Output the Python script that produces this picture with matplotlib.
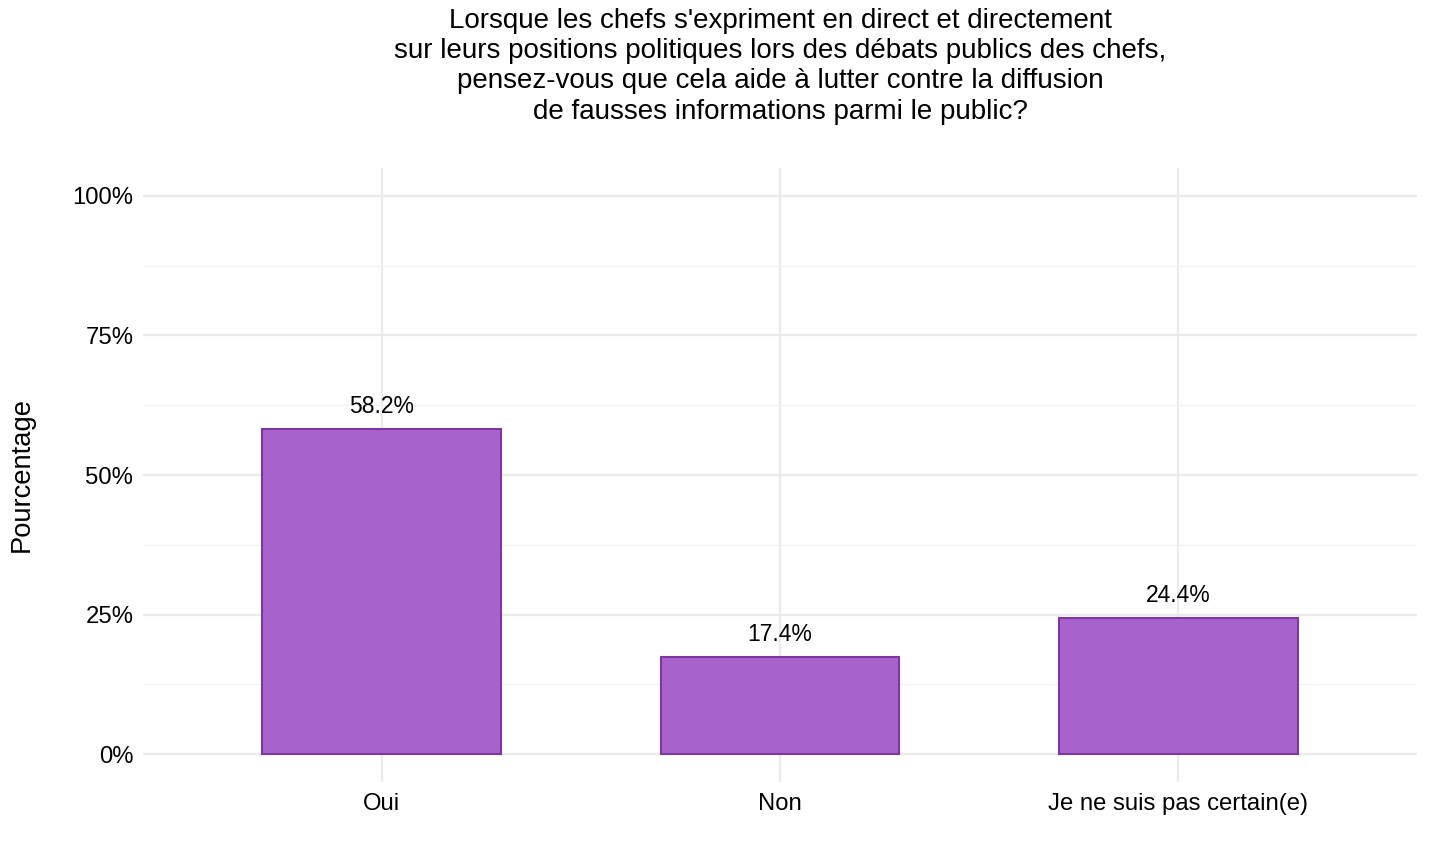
import matplotlib
matplotlib.use("Agg")
import matplotlib.pyplot as plt
from matplotlib.ticker import FixedLocator

categories = ["Oui", "Non", "Je ne suis pas certain(e)"]
values = [58.2, 17.4, 24.4]
labels = ["58.2%", "17.4%", "24.4%"]
yticks = [0, 25, 50, 75, 100]
ytick_labels = ["0%", "25%", "50%", "75%", "100%"]
title = ("Lorsque les chefs s'expriment en direct et directement\n"
         "sur leurs positions politiques lors des débats publics des chefs,\n"
         "pensez-vous que cela aide à lutter contre la diffusion\n"
         "de fausses informations parmi le public?")

plt.rcParams['font.family'] = ['Liberation Sans', 'DejaVu Sans']

W, H = 1429, 857
fig = plt.figure(figsize=(W/100, H/100), dpi=100)
ax = fig.add_axes([143/W, (H-782)/H, (1417-143)/W, (782-168)/H])

x = list(range(1, len(categories)+1))
ax.bar(x, values, width=0.6, color="#A862CB", edgecolor="#7B38A0", linewidth=1.5, zorder=3)
for xi, v, l in zip(x, values, labels):
    ax.annotate(l, (xi, v), xytext=(0, 8), textcoords="offset points",
                ha="center", va="bottom", fontsize=16.5, color="black", zorder=4)

ax.set_xlim(0.4, 3.6)
ax.set_ylim(-5, 105)
ax.set_xticks(x)
ax.set_xticklabels(categories, fontsize=17.2)
ax.set_yticks(yticks)
ax.set_yticklabels(ytick_labels, fontsize=17.2)
ax.yaxis.set_minor_locator(FixedLocator([12.5, 37.5, 62.5, 87.5]))
ax.grid(True, which="major", axis="both", color="#EBEBEB", linewidth=1.6, zorder=0)
ax.grid(True, which="minor", axis="y", color="#F0F0F0", linewidth=0.9, zorder=0)
ax.tick_params(axis="both", which="both", length=0, pad=7, colors="black")
ax.tick_params(axis="x", pad=8)
for s in ax.spines.values():
    s.set_visible(False)

fig.text(22/W, 1-475/H, "Pourcentage", rotation=90, ha="center", va="center",
         fontsize=19.7, color="black")

fig.text((143+1417)/2/W, 1-8/H, title, ha="center", va="top", fontsize=20,
         linespacing=1.21)

fig.savefig("out.png", dpi=100)
